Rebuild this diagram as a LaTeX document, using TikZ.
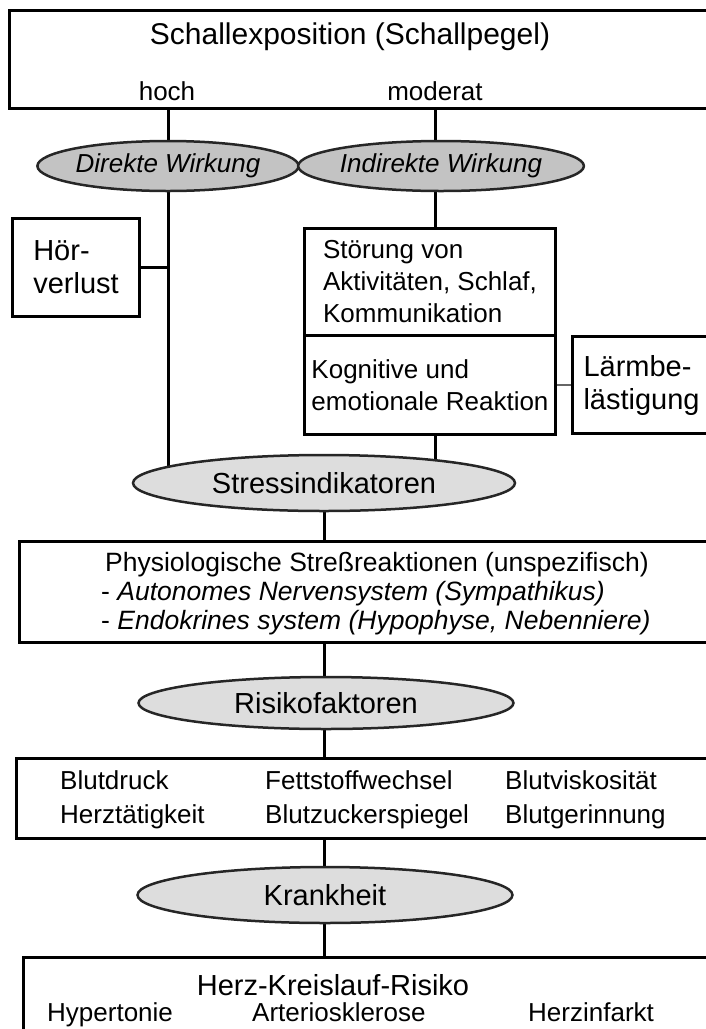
\documentclass[tikz,border=0pt]{standalone}
\usepackage{fontspec}
\setmainfont{Liberation Sans}
\usetikzlibrary{shapes.geometric,backgrounds}
\definecolor{ovaldark}{RGB}{195,195,195}
\definecolor{ovallight}{RGB}{221,221,221}
\tikzset{
  box/.style={draw, line width=3pt, fill=white, anchor=north west, inner ysep=0pt, align=left},
  oval/.style={ellipse, draw=black!85, line width=2.5pt, fill=ovallight, inner sep=0pt},
  link/.style={line width=3pt},
  normaltxt/.style={font=\fontsize{26}{32}\selectfont},
  bigtxt/.style={font=\fontsize{29}{33}\selectfont}
}
\begin{document}
\begin{tikzpicture}[x=1pt,y=-1pt]
\useasboundingbox (0,0) rectangle (706,1029);

% draw exposure box
\node[box, minimum width=707, minimum height=98] (top) at (8,9) {};
\node[font=\fontsize{30}{34}\selectfont, inner sep=0pt] (title) at (350,37) {Schallexposition (Schallpegel)};
\node[normaltxt, anchor=base, inner sep=0pt] (hoch) at (167,100) {hoch};
\node[normaltxt, anchor=base, inner sep=0pt] (mod) at (435,100) {moderat};

% draw effect ovals
\node[oval, fill=ovaldark, minimum width=237, minimum height=50, normaltxt] (dir) at (168,166) {\itshape Direkte Wirkung};
\node[oval, fill=ovaldark, minimum width=238, minimum height=50, normaltxt] (ind) at (441,166) {\itshape Indirekte Wirkung};

% draw reaction boxes
\node[box, bigtxt, minimum width=127, minimum height=98, inner xsep=0pt] (hoer) at (11,217) {H\"or-\\verlust};
\node[box, normaltxt, minimum width=251, minimum height=107, inner xsep=0pt] (stoer) at (303,227) {St\"orung von\\Aktivit\"aten, Schlaf,\\Kommunikation};
\node[box, normaltxt, minimum width=251, minimum height=99, inner xsep=0pt] (kog) at (303,334) {Kognitive und\\emotionale Reaktion};
\node[box, bigtxt, minimum height=97, inner xsep=11pt, text width=122] (laerm) at (571,335) {L\"armbe-\\l\"astigung};

% draw stress chain
\node[oval, minimum width=382, minimum height=56, bigtxt] (stress) at (324,483) {Stressindikatoren};
\node[box, minimum width=697, minimum height=101] (phys) at (18,540) {};
\node[font=\fontsize{26.5}{29}\selectfont, anchor=west, align=left, inner sep=0pt] (physTxt) at (101,594)
  {\hspace{4pt}Physiologische Streßreaktionen (unspezifisch)\\- \textit{Autonomes Nervensystem (Sympathikus)}\\- \textit{Endokrines system (Hypophyse, Nebenniere)}};
\node[oval, minimum width=375, minimum height=52, bigtxt] (rfak) at (326,703) {Risikofaktoren};

% draw risk factor box
\node[box, minimum width=700, minimum height=80] (risk) at (15,757) {};
\node[font=\fontsize{26}{34}\selectfont, anchor=west, align=left, inner sep=0pt] (col1) at (60,800) {Blutdruck\\Herzt\"atigkeit};
\node[font=\fontsize{26}{34}\selectfont, anchor=west, align=left, inner sep=0pt] (col2) at (265,800) {Fettstoffwechsel\\Blutzuckerspiegel};
\node[font=\fontsize{26}{34}\selectfont, anchor=west, align=left, inner sep=0pt] (col3) at (505,800) {Blutviskosit\"at\\Blutgerinnung};

% draw disease box
\node[oval, minimum width=375, minimum height=56, bigtxt] (kh) at (325,895) {Krankheit};
\node[box, minimum width=693, minimum height=90] (bottom) at (22,956) {};
\node[bigtxt, anchor=base, inner sep=0pt] (hkr) at (333,995) {Herz-Kreislauf-Risiko};
\node[normaltxt, anchor=base west, inner sep=0pt] (hyp) at (47,1021) {Hypertonie};
\node[normaltxt, anchor=base west, inner sep=0pt] (art) at (252,1021) {Arteriosklerose};
\node[normaltxt, anchor=base west, inner sep=0pt] (inf) at (528,1021) {Herzinfarkt};

% draw connectors
\begin{scope}[on background layer]
\draw[link] (dir |- top.south) -- (dir);
\draw[link] (dir) -- (dir |- stress);
\draw[link] (hoer.east) -- (hoer.east -| dir);
\draw[link] (mod |- top.south) -- (mod |- stoer.north);
\draw[link] (kog.south -| mod) -- (mod |- stress);
\draw[line width=2pt, black!60] (kog.east |- laerm.west) -- (laerm.west);
\draw[link] (stress) -- (stress |- phys.north);
\draw[link] (phys.south -| stress) -- (stress |- rfak);
\draw[link] (rfak -| stress) -- (stress |- risk.north);
\draw[link] (risk.south -| stress) -- (stress |- kh);
\draw[link] (kh -| stress) -- (stress |- bottom.north);
\end{scope}
\end{tikzpicture}
\end{document}
